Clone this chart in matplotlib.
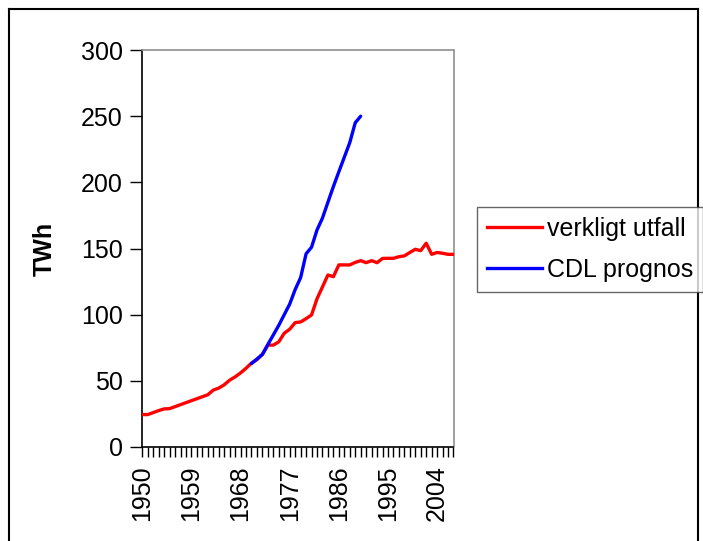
import matplotlib
matplotlib.use("Agg")
import matplotlib.pyplot as plt
from matplotlib.lines import Line2D
from matplotlib.ticker import MultipleLocator, FixedLocator

plt.rcParams['font.family'] = ['Liberation Sans', 'DejaVu Sans']

years_actual = list(range(1950, 2008))
verkligt_utfall = [24.5, 24.5, 26, 27.5, 28.8, 29, 30.5, 32, 33.5, 35,
                   36.5, 38, 39.5, 43, 44.5, 47, 50.5, 53, 56, 59.5,
                   63.5, 66, 70, 77, 77, 79.5, 86, 89, 94, 94.5,
                   97, 99.8, 112, 121, 130, 128.7, 137.6, 137.6, 137.6, 139.5,
                   140.8, 139.3, 140.8, 139.3, 142.5, 142.6, 142.6, 143.8, 144.4, 147,
                   149.4, 148.4, 154, 145.6, 147, 146.4, 145.6, 145.6]

years_prognos = list(range(1970, 1991))
cdl_prognos = [63, 66.5, 70, 77.5, 84.7, 92, 100, 108, 119, 128,
               146, 151, 164, 173, 185, 196.8, 208, 219, 230, 245, 250]

tick_years = [1950, 1959, 1968, 1977, 1986, 1995, 2004]
y_ticks = [0, 50, 100, 150, 200, 250, 300]

W, H = 703, 541
fig = plt.figure(figsize=(W / 100, H / 100), dpi=100)
ax = fig.add_axes([142.3 / W, 1 - 447 / H, (453.5 - 142.3) / W, (447 - 50) / H])

ax.plot(years_actual, verkligt_utfall, color='#ff0000', lw=2.4, solid_capstyle='round',
        solid_joinstyle='round', label='verkligt utfall', zorder=3)
ax.plot(years_prognos, cdl_prognos, color='#0000ff', lw=2.4, solid_capstyle='round',
        solid_joinstyle='round', label='CDL prognos', zorder=4)

ax.set_xlim(years_actual[0], years_actual[-1])
ax.set_ylim(0, 300)
ax.set_yticks(y_ticks)
ax.xaxis.set_major_locator(FixedLocator(tick_years))
ax.xaxis.set_minor_locator(MultipleLocator(1))
ax.set_xticklabels([str(y) for y in tick_years], rotation=90)
ax.tick_params(axis='both', which='both', direction='out', color='black', width=1)
ax.tick_params(axis='y', length=9, labelsize=18, pad=5)
ax.tick_params(axis='x', which='both', length=7, labelsize=18, pad=6)

for s in ['left', 'bottom']:
    ax.spines[s].set_color('black')
    ax.spines[s].set_linewidth(1.2)
for s in ['top', 'right']:
    ax.spines[s].set_color('#909090')
    ax.spines[s].set_linewidth(1.2)

ax.set_ylabel('TWh', fontsize=18, fontweight='bold', labelpad=17)

handles = [Line2D([], [], color='#ff0000', lw=2.4),
           Line2D([], [], color='#0000ff', lw=2.4)]
leg = fig.legend(handles, ['verkligt utfall', 'CDL prognos'],
                 loc='upper left', bbox_to_anchor=(477 / W, 1 - 206.5 / H),
                 fontsize=18, frameon=True, fancybox=False, handlelength=2.2,
                 handletextpad=0.2, borderpad=0.4, labelspacing=0.7,
                 borderaxespad=0)
leg.get_frame().set_edgecolor('#404040')
leg.get_frame().set_linewidth(1.0)

# outer chart border
fig.add_artist(Line2D([8.5 / W, 8.5 / W], [0, 1 - 8.5 / H], color='black', lw=1.5, transform=fig.transFigure))
fig.add_artist(Line2D([8.5 / W, 697.5 / W], [1 - 8.5 / H, 1 - 8.5 / H], color='black', lw=1.5, transform=fig.transFigure))
fig.add_artist(Line2D([697.5 / W, 697.5 / W], [0, 1 - 8.5 / H], color='black', lw=1.5, transform=fig.transFigure))

fig.savefig('out.png', dpi=100)
